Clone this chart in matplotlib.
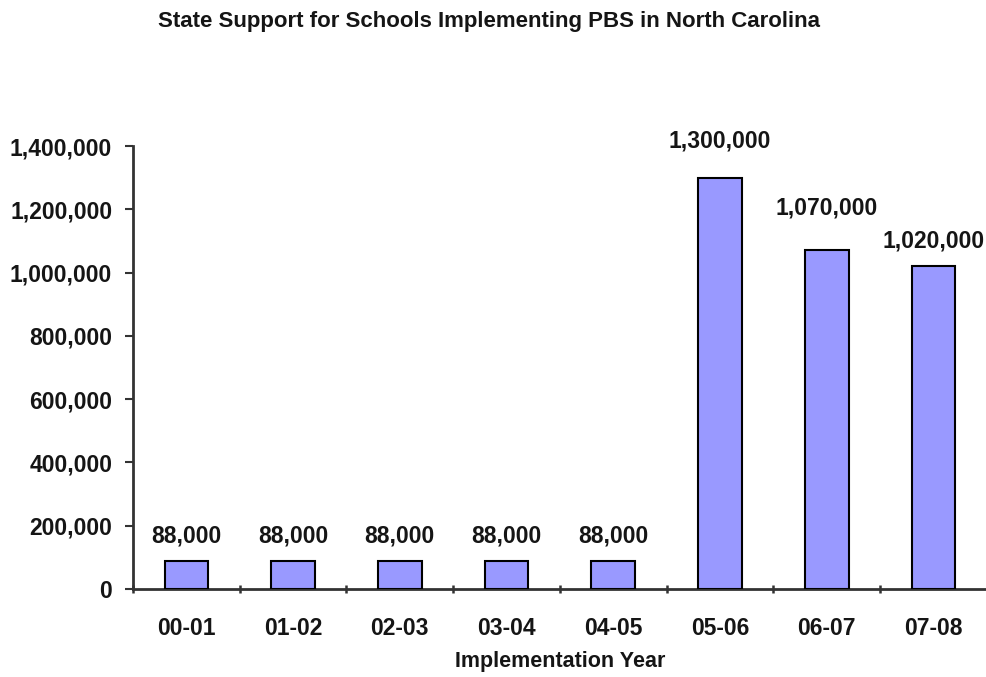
import matplotlib
matplotlib.use("Agg")
import matplotlib.pyplot as plt
from matplotlib.ticker import FuncFormatter, MultipleLocator

plt.rcParams['font.family'] = ['Liberation Sans', 'DejaVu Sans']
plt.rcParams['font.weight'] = 'bold'

years = ["00-01", "01-02", "02-03", "03-04", "04-05", "05-06", "06-07", "07-08"]
funding = [88000, 88000, 88000, 88000, 88000, 1300000, 1070000, 1020000]
label_offsets_px = [25, 25, 25, 25, 25, 37, 42, 25]

TEXT = "#151515"

fig = plt.figure(figsize=(9.87, 6.77), dpi=100)
ax = fig.add_axes([0.1348, 0.13, 0.865, 0.6543])

x = list(range(len(years)))
ax.bar(x, funding, width=0.41, color="#9999FF", edgecolor="black", linewidth=1.5, zorder=3)

for xi, v, off in zip(x, funding, label_offsets_px):
    ax.annotate(f"{v:,}", xy=(xi, v), xytext=(0, off * 72 / 100), textcoords="offset points",
                ha="center", va="center", fontsize=16.5, fontweight="bold", color=TEXT)

ax.set_xlim(-0.5, len(years) - 0.5)
ax.set_ylim(0, 1400000)
ax.yaxis.set_major_locator(MultipleLocator(200000))
ax.yaxis.set_major_formatter(FuncFormatter(lambda v, p: f"{int(v):,}"))

ax.set_xticks(x)
ax.set_xticklabels(years)
ax.set_xticks([i - 0.5 for i in range(len(years) + 1)], minor=True)
ax.tick_params(axis="x", which="major", length=0, pad=20, labelsize=16.5)
ax.tick_params(axis="x", which="minor", length=6, width=1.8, direction="inout", color="#333333")
ax.tick_params(axis="y", length=6, width=1.5, direction="out", labelsize=16.5, pad=9, color="#333333")
for lab in ax.get_xticklabels() + ax.get_yticklabels():
    lab.set_fontweight("bold")
    lab.set_color(TEXT)

for side in ["top", "right"]:
    ax.spines[side].set_visible(False)
for side in ["left", "bottom"]:
    ax.spines[side].set_linewidth(2)
    ax.spines[side].set_color("#333333")

ax.set_xlabel("Implementation Year", fontsize=15.5, fontweight="bold", labelpad=8, color=TEXT)
fig.text(0.495, 0.968, "State Support for Schools Implementing PBS in North Carolina",
         ha="center", va="center", fontsize=16, fontweight="bold", color=TEXT)

fig.savefig("out.png", dpi=100)
